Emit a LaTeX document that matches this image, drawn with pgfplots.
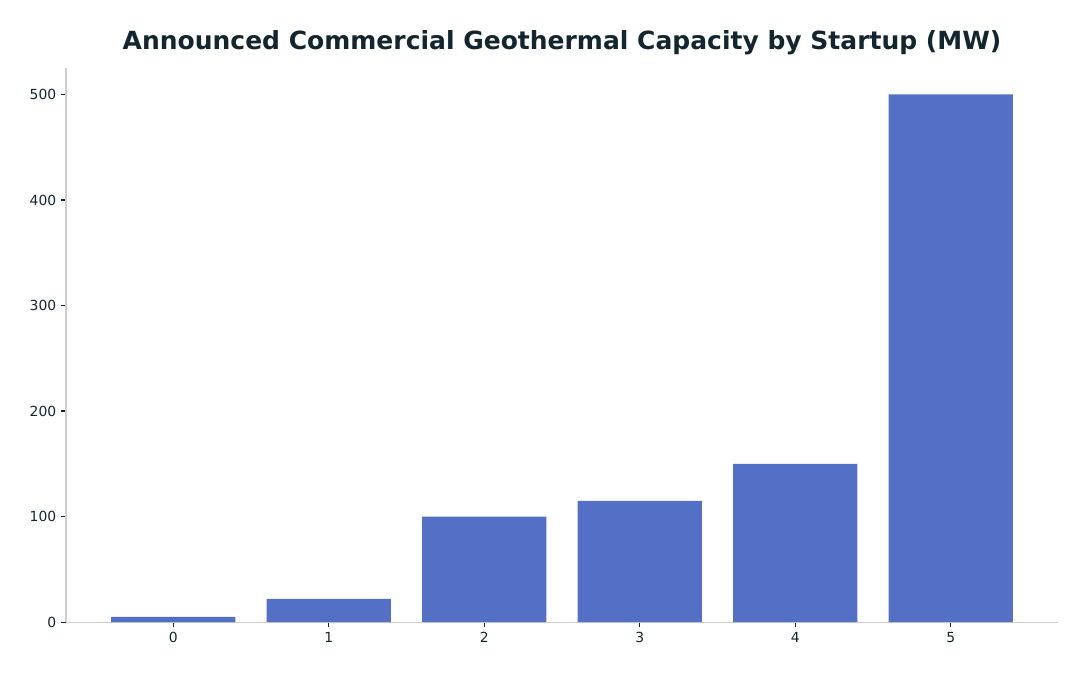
\documentclass[border=0pt]{standalone}
\usepackage{pgfplots}
\pgfplotsset{compat=1.18}
\usepackage{fontspec}
\setmainfont{DejaVu Sans}

\definecolor{barblue}{HTML}{5470C6}
\definecolor{inkdark}{HTML}{13262F}
\definecolor{spinegray}{HTML}{CCCCCC}

\begin{document}
\begin{tikzpicture}
\useasboundingbox (-47.5pt,-38.9pt) rectangle (735.8pt,447.9pt);
\begin{axis}[
    at={(0,0)}, anchor=south west,
    scale only axis,
    width=714.2pt, height=398.9pt,
    xmin=-0.69, xmax=5.69,
    ymin=0, ymax=525,
    ybar, bar width=0.8, bar shift=0pt,
    xtick={0,1,2,3,4,5},
    ytick={0,100,200,300,400,500},
    axis x line*=bottom, axis y line*=left,
    axis line style={spinegray, line width=0.8pt},
    tick style={inkdark, line width=0.8pt},
    major tick length=3.5pt,
    tick align=outside,
    x axis line style={-}, y axis line style={-},
    ticklabel style={font=\fontsize{10}{12}\selectfont, text=inkdark},
    /pgf/number format/assume math mode=true,
    title={\bfseries Announced Commercial Geothermal Capacity by Startup (MW)},
    title style={at={(0.5,1)}, anchor=base, yshift=7pt,
        font=\fontsize{18}{22}\selectfont, text=inkdark},
]
\addplot[fill=barblue, draw=none] coordinates {
    (0,5) (1,22) (2,100) (3,115) (4,150) (5,500)
};
\end{axis}
\end{tikzpicture}
\end{document}
